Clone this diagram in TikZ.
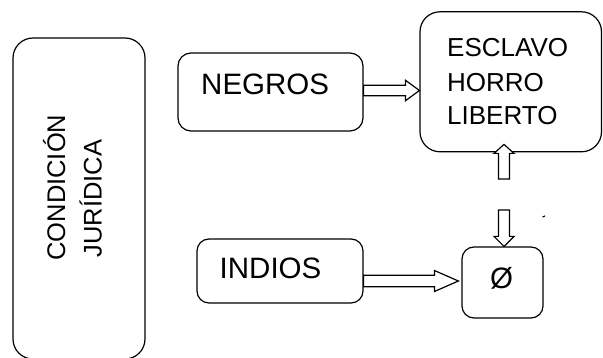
\documentclass[tikz,border=0pt]{standalone}
\usepackage{fontspec}
\setmainfont{Liberation Sans}
\usetikzlibrary{calc}
\newcommand\fsBig{\fontsize{29.5}{35}\selectfont}
\newcommand\fsMid{\fontsize{26}{31}\selectfont}
\newcommand\fsRot{\fontsize{25.5}{31}\selectfont}
\begin{document}
\begin{tikzpicture}[x=1pt,y=-1pt,
  box/.style={draw=black, line width=1.2pt, fill=white, inner sep=0pt},
  lbl/.style={inner sep=0pt, anchor=base west, text=black},
  blk/.style={draw=black, line width=1.2pt, fill=white, line join=miter}]
\path[fill=white, use as bounding box] (0,0) rectangle (603,358);

% boxes
\node[box, rounded corners=20pt, minimum width=132pt, minimum height=321pt] (cond) at (79,198.5) {};
\node[box, rounded corners=13pt, minimum width=185pt, minimum height=78pt] (negros) at (270.5,92) {};
\node[box, rounded corners=20pt, minimum width=181.5pt, minimum height=140pt] (esclavo) at (510.75,81.8) {};
\node[box, rounded corners=12pt, minimum width=166pt, minimum height=64pt] (indios) at (280,271) {};
\node[box, rounded corners=12pt, minimum width=81pt, minimum height=71pt] (phi) at (502.5,282.5) {};

% texts
\node[lbl, rotate=90, font=\fsRot] (condA) at (65,260.8) {CONDICIÓN};
\node[lbl, rotate=90, font=\fsRot] (condB) at (101.7,257.5) {JURÍDICA};
\node[lbl, font=\fsBig] (negrosT) at (201,95) {NEGROS};
\node[lbl, font=\fsBig] (indiosT) at (219.5,279) {INDIOS};
\node[lbl, font=\fsMid] (esc1) at (447,56.7) {ESCLAVO};
\node[lbl, font=\fsMid] (esc2) at (447,91.7) {HORRO};
\node[lbl, font=\fsMid] (esc3) at (447,125) {LIBERTO};
\node[inner sep=0pt, anchor=base, font=\fsBig] (phiT) at (501.5,288.5) {Ø};

% connector end points
\coordinate (a1s) at ($(negros.east)+(0,-1.5)$);
\coordinate (a1e) at (esclavo.west |- a1s);
\coordinate (a2s) at ($(indios.east)+(0,10)$);
\coordinate (a2e) at ($(phi.west |- a2s)+(-3,0)$);
\coordinate (a3s) at (504,179);
\coordinate (a3e) at ($(esclavo.south -| a3s)+(0,-8)$);
\coordinate (a4s) at (504,210);
\coordinate (a4e) at (phi.north -| a4s);

% block arrows
\draw[blk] let \p1=(a1s), \p2=(a1e) in
  (\x1,\y1+5.3pt) -- (\x2-14pt,\y1+5.3pt) -- (\x2-14pt,\y1+10.3pt) -- (\x2,\y1)
  -- (\x2-14pt,\y1-10.3pt) -- (\x2-14pt,\y1-5.3pt) -- (\x1,\y1-5.3pt) -- cycle;
\draw[blk] let \p1=(a2s), \p2=(a2e) in
  (\x1,\y1+5.8pt) -- (\x2-24pt,\y1+5.8pt) -- (\x2-24pt,\y1+10.5pt) -- (\x2,\y1)
  -- (\x2-24pt,\y1-10.5pt) -- (\x2-24pt,\y1-5.8pt) -- (\x1,\y1-5.8pt) -- cycle;
\draw[blk] let \p1=(a3s), \p2=(a3e) in
  (\x1-5.5pt,\y1) -- (\x1-5.5pt,\y2-9pt) -- (\x1-10pt,\y2-9pt) -- (\x1,\y2)
  -- (\x1+10pt,\y2-9pt) -- (\x1+5.5pt,\y2-9pt) -- (\x1+5.5pt,\y1) -- cycle;
\draw[blk] let \p1=(a4s), \p2=(a4e) in
  (\x1-5.5pt,\y1) -- (\x1-5.5pt,\y2+10pt) -- (\x1-10pt,\y2+10pt) -- (\x1,\y2)
  -- (\x1+10pt,\y2+10pt) -- (\x1+5.5pt,\y2+10pt) -- (\x1+5.5pt,\y1) -- cycle;

% stray mark
\draw[line width=1.2pt] (542.5,217) -- (545,216);
\end{tikzpicture}
\end{document}
